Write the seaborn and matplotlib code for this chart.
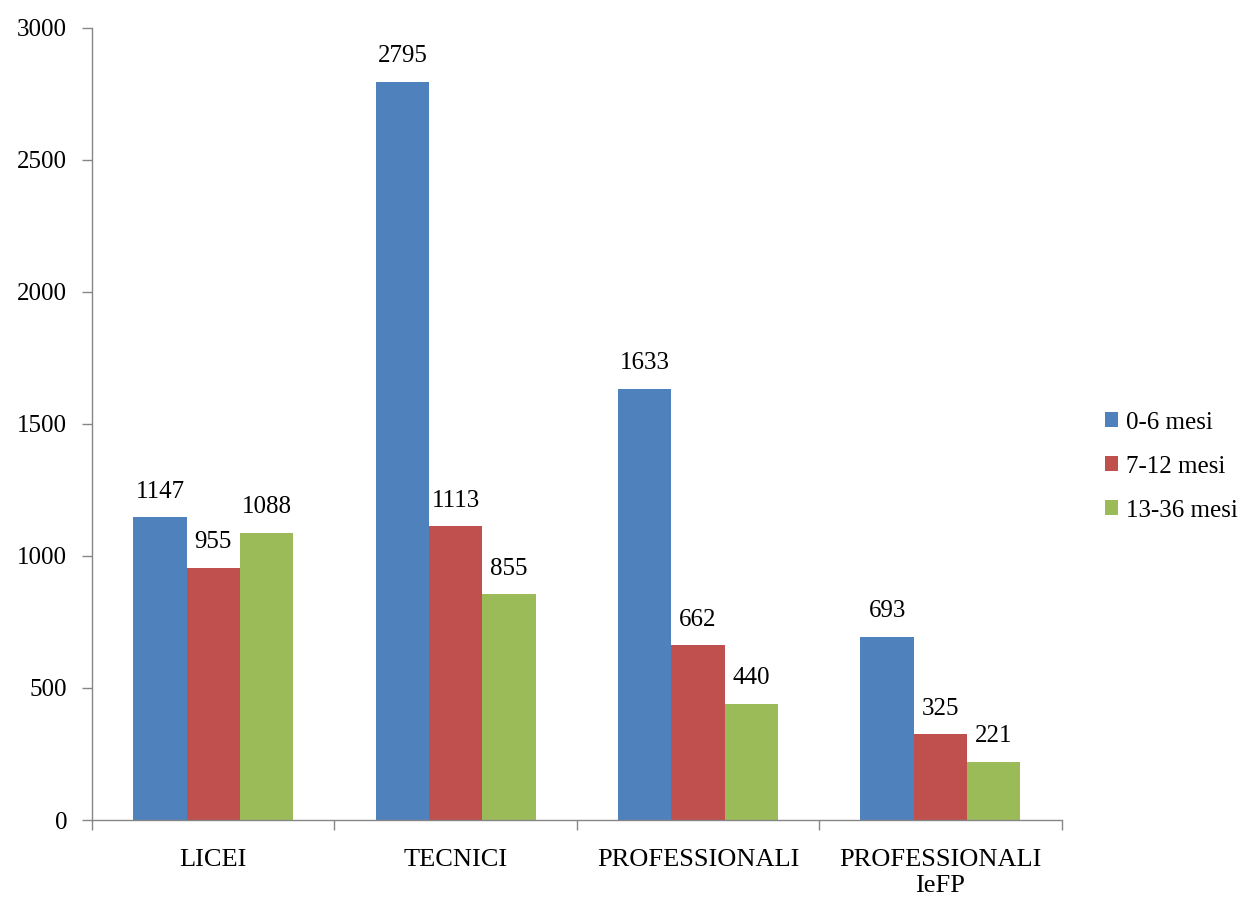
import numpy as np
import pandas as pd
import seaborn as sns
import matplotlib.pyplot as plt
from matplotlib.ticker import FixedLocator

# Data
categorie = ['LICEI', 'TECNICI', 'PROFESSIONALI', 'PROFESSIONALI\nIeFP']
periodi = ['0-6 mesi', '7-12 mesi', '13-36 mesi']
mesi_0_6 = [1147, 2795, 1633, 693]
mesi_7_12 = [955, 1113, 662, 325]
mesi_13_36 = [1088, 855, 440, 221]
colori = ['#4F81BD', '#C0504D', '#9BBB59']

# Long format table for seaborn
df = pd.DataFrame({
    'categoria': categorie * 3,
    'periodo': [periodi[0]] * 4 + [periodi[1]] * 4 + [periodi[2]] * 4,
    'valore': mesi_0_6 + mesi_7_12 + mesi_13_36,
})

sns.set_style('white')
plt.rcParams['font.family'] = ['Liberation Serif', 'DejaVu Serif']
plt.rcParams['text.color'] = 'black'
plt.rcParams['xtick.labelcolor'] = 'black'
plt.rcParams['ytick.labelcolor'] = 'black'

fig = plt.figure(figsize=(12.49, 9.01), dpi=100)
ax = fig.add_axes([0.0737, 0.0899, 0.7763, 0.8791])

sns.barplot(data=df, x='categoria', y='valore', hue='periodo',
            palette=colori, width=0.66, saturation=1, linewidth=0, ax=ax)

# Value labels above the bars
for cont in ax.containers:
    ax.bar_label(cont, padding=10.5, fontsize=18, color='black')

ax.set_ylim(0, 3000)
ax.set_xlim(-0.5, 3.5)
ax.set_yticks(np.arange(0, 3001, 500))
ax.set_xlabel('')
ax.set_ylabel('')

# Ticks: y outside, x ticks at group boundaries
ax.tick_params(axis='y', direction='out', length=7, width=1, color='#868686',
               labelcolor='black', labelsize=18, left=True, pad=11)
ax.tick_params(axis='x', which='major', length=0, labelsize=19, labelcolor='black', pad=21)
ax.xaxis.set_minor_locator(FixedLocator([-0.5, 0.5, 1.5, 2.5, 3.5]))
ax.tick_params(axis='x', which='minor', direction='out', length=7, width=1,
               color='#868686', bottom=True)

for side in ['top', 'right']:
    ax.spines[side].set_visible(False)
for side in ['left', 'bottom']:
    ax.spines[side].set_color('#868686')
    ax.spines[side].set_linewidth(1)

ax.legend(loc='center left', bbox_to_anchor=(1.034, 0.446), borderaxespad=0,
          frameon=False, fontsize=18, handlelength=0.55, handleheight=0.55,
          labelspacing=0.88, handletextpad=0.3, labelcolor='black')

plt.savefig('out.png', dpi=100)
